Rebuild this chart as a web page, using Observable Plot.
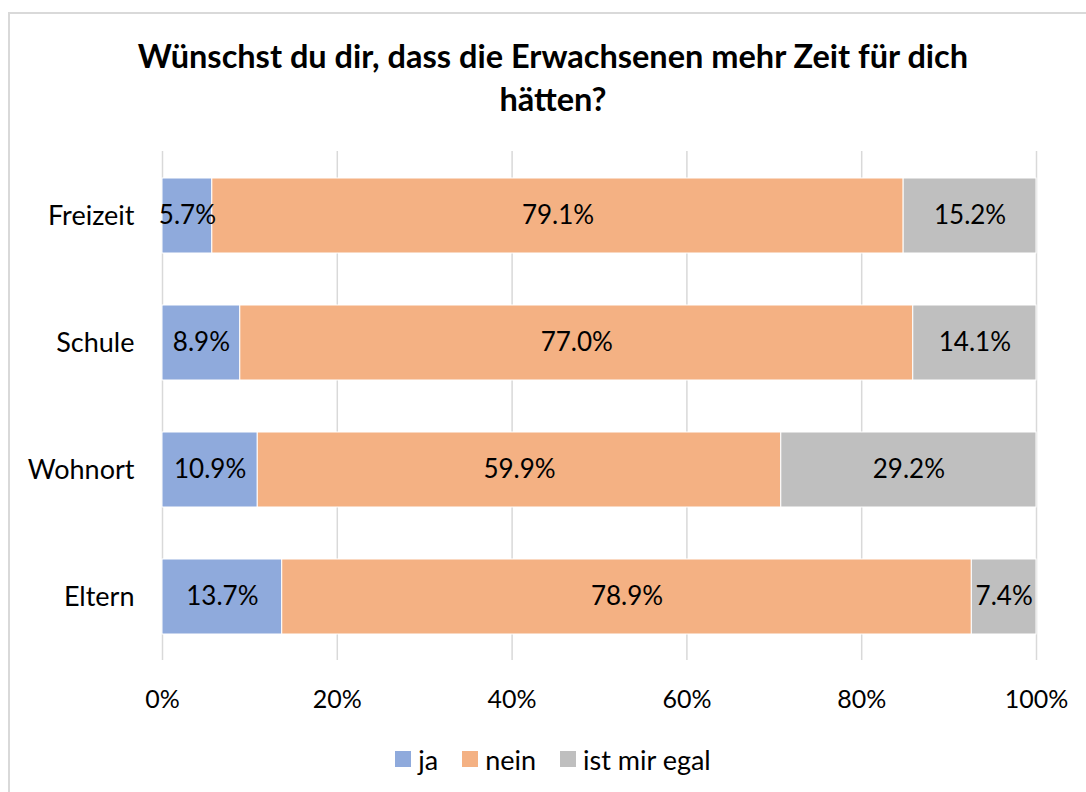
<!DOCTYPE html>
<html>
<head>
<meta charset="utf-8">
<script src="https://cdn.jsdelivr.net/npm/d3@7"></script>
<script src="https://cdn.jsdelivr.net/npm/@observablehq/plot@0.6"></script>
<style>
  html, body { margin: 0; padding: 0; background: #fff; overflow: hidden; }
  #frame { position: absolute; left: 8px; top: 12px; width: 1200px; height: 900px; border: 2px solid #d9d9d9; box-sizing: border-box; }
  #title { position: absolute; left: 0; width: 1106px; top: 34px; text-align: center; font-family: Lato, sans-serif; font-weight: bold; font-size: 32.5px; line-height: 43px; color: #000; }
  #chart { position: absolute; left: 0; top: 131px; }
  #legend { position: absolute; left: 0; width: 1106px; top: 740px; text-align: center; font-family: Lato, sans-serif; font-size: 27px; color: #000; }
  .item { display: inline-flex; align-items: center; margin: 0 12px; }
  .sw { width: 16px; height: 16px; display: inline-block; margin-right: 7px; }
</style>
</head>
<body>
<div id="frame"></div>
<div id="title">Wünschst du dir, dass die Erwachsenen mehr Zeit für dich<br>hätten?</div>
<div id="chart"></div>
<div id="legend"></div>
<script>
const categories = ["Freizeit", "Schule", "Wohnort", "Eltern"];
const seriesNames = ["ja", "nein", "ist mir egal"];
const seriesColors = ["#8faadc", "#f4b183", "#bfbfbf"];
const ja = [5.7, 8.9, 10.9, 13.7];
const nein = [79.1, 77.0, 59.9, 78.9];
const egal = [15.2, 14.1, 29.2, 7.4];
const xTicks = [0, 20, 40, 60, 80, 100];

const seriesValues = [ja, nein, egal];
const data = [];
categories.forEach((c, i) => {
  seriesNames.forEach((s, j) => {
    data.push({cat: c, series: s, value: seriesValues[j][i]});
  });
});

const plot = Plot.plot({
  width: 1086,
  height: 601,
  marginLeft: 162,
  marginRight: 50,
  marginTop: 20,
  marginBottom: 72,
  style: {fontFamily: "Lato, sans-serif", fontSize: "25px", color: "#000", background: "transparent"},
  x: {domain: [0, 100], ticks: xTicks, tickFormat: d => d + "%", label: null, tickSize: 0, tickPadding: 30},
  y: {domain: categories, label: null, tickSize: 0, tickPadding: 28, paddingInner: 0.41, paddingOuter: 0.205},
  color: {domain: seriesNames, range: seriesColors},
  marks: [
    Plot.gridX(xTicks, {stroke: "#d9d9d9", strokeOpacity: 1, strokeWidth: 1.5}),
    Plot.barX(data, Plot.stackX({x: "value", y: "cat", z: "series", fill: "series", stroke: "#fff", strokeWidth: 1})),
    Plot.text(data, Plot.stackX({x: "value", y: "cat", z: "series", text: d => d.value.toFixed(1) + "%", fill: "#000", fontSize: 26}))
  ]
});
plot.querySelectorAll('[aria-label="y-axis tick label"] text').forEach(t => t.setAttribute("font-size", "27px"));
plot.querySelectorAll('[aria-label="y-axis tick label"], [aria-label="x-axis tick label"]').forEach(g => g.setAttribute("fill", "#000"));
document.getElementById("chart").appendChild(plot);

const legend = document.getElementById("legend");
seriesNames.forEach((s, i) => {
  const item = document.createElement("span");
  item.className = "item";
  const sw = document.createElement("span");
  sw.className = "sw";
  sw.style.background = seriesColors[i];
  item.appendChild(sw);
  item.appendChild(document.createTextNode(s));
  legend.appendChild(item);
});
</script>
</body>
</html>
